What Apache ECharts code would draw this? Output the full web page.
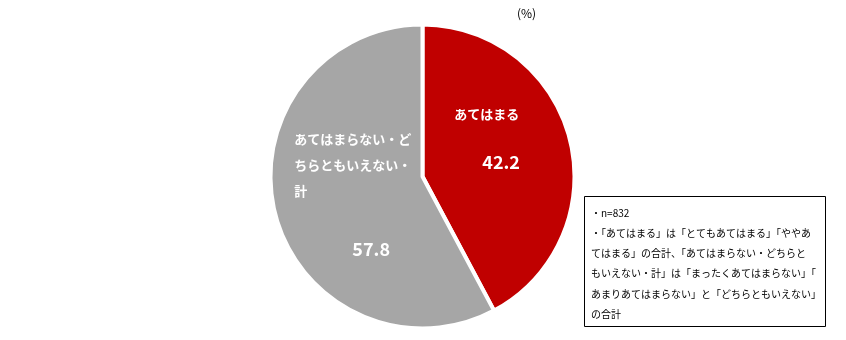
<!DOCTYPE html>
<html><head><meta charset="utf-8">
<script src="https://cdn.jsdelivr.net/npm/echarts@6/dist/echarts.min.js"></script>
<style>html,body{margin:0;padding:0;background:#fff}#c{width:846px;height:340px}</style>
</head><body><div id="c"></div>
<script>
const categories = ['あてはまる', 'あてはまらない・どちらともいえない・計'];
const labelLines = [['あてはまる'], ['あてはまらない・ど', 'ちらともいえない・', '計']];
const values = [42.2, 57.8];
const colors = ['#C00000', '#A6A6A6'];
const unitLabel = '(%)';
const noteLines = [
  '・n=832',
  '・「あてはまる」は「とてもあてはまる」「ややあ',
  'てはまる」の合計、「あてはまらない・どちらと',
  'もいえない・計」は「まったくあてはまらない」「',
  'あまりあてはまらない」と「どちらともいえない」',
  'の合計'
];

const FONT = '"Noto Sans CJK JP", sans-serif';
const labelCfg = [
  { offset: [-12, -8], numPad: 28, numLH: 70 },
  { offset: [7, 14], numPad: 58, numLH: 90 }
];

const chart = echarts.init(document.getElementById('c'), null, { renderer: 'canvas' });
chart.setOption({
  backgroundColor: '#fff',
  animation: false,
  series: [{
    type: 'pie',
    center: [422.5, 176.5],
    radius: [0, 152],
    startAngle: 90,
    clockwise: true,
    silent: true,
    itemStyle: { borderColor: '#fff', borderWidth: 4 },
    labelLine: { show: false },
    data: values.map((v, i) => ({
      name: categories[i],
      value: v,
      itemStyle: { color: colors[i] },
      label: {
        show: true,
        position: 'inside',
        offset: labelCfg[i].offset,
        formatter: labelLines[i].map(l => '{a|' + l + '}').join('\n') + '\n{b|' + v.toFixed(1) + '}',
        rich: {
          a: { fontFamily: FONT, fontSize: 13, fontWeight: 'bold', color: '#fff', lineHeight: 26, align: 'left' },
          b: { fontFamily: FONT, fontSize: 18, fontWeight: 'bold', color: '#fff', lineHeight: labelCfg[i].numLH, align: 'left',
               padding: [0, 0, 0, labelCfg[i].numPad] }
        }
      }
    }))
  }],
  graphic: [
    { type: 'text', left: 517, top: 7, style: { text: unitLabel, fontFamily: FONT, fontSize: 12, fill: '#000' } },
    { type: 'rect', shape: { x: 584.5, y: 196.5, width: 241, height: 130 }, style: { fill: '#fff', stroke: '#000', lineWidth: 1 } },
    { type: 'text', x: 591, y: 203, style: { text: noteLines.join('\n'), fontFamily: FONT, fontSize: 10, lineHeight: 20.2, fill: '#000' } }
  ]
});
</script></body></html>
